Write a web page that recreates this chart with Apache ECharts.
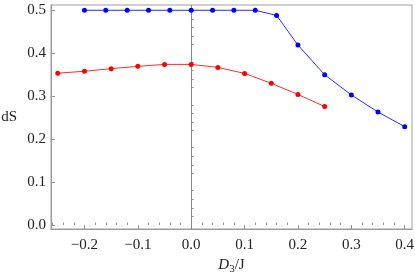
<!DOCTYPE html>
<html>
<head>
<meta charset="utf-8">
<script src="https://cdn.jsdelivr.net/npm/echarts@6/dist/echarts.min.js"></script>
<style>html,body{margin:0;padding:0;background:#fff}#c{width:415px;height:280px}</style>
</head>
<body>
<div id="c"></div>
<script>
var blueX = [-0.2,-0.16,-0.12,-0.08,-0.04,0,0.04,0.08,0.12,0.16,0.2,0.25,0.3,0.35,0.4];
var blueY = [0.5,0.5,0.5,0.5,0.5,0.5,0.5,0.5,0.5,0.488,0.419,0.350,0.303,0.263,0.229];
var redX = [-0.25,-0.2,-0.15,-0.1,-0.05,0,0.05,0.1,0.15,0.2,0.25];
var redY = [0.3535,0.358,0.364,0.3695,0.374,0.374,0.367,0.353,0.330,0.304,0.276];
var xMajor = [-0.2,-0.1,0,0.1,0.2,0.3,0.4];
var xMinor = [-0.26,-0.24,-0.22,-0.18,-0.16,-0.14,-0.12,-0.08,-0.06,-0.04,-0.02,0.02,0.04,0.06,0.08,0.12,0.14,0.16,0.18,0.22,0.24,0.26,0.28,0.32,0.34,0.36,0.38];
var yMajor = [0,0.1,0.2,0.3,0.4,0.5];
var yMinor = [0.02,0.04,0.06,0.08,0.12,0.14,0.16,0.18,0.22,0.24,0.26,0.28,0.32,0.34,0.36,0.38,0.42,0.44,0.46,0.48];

var xMin=-0.2627, xMax=0.4137, yMin=-0.0093, yMax=0.5123;
var font = '"Liberation Serif","DejaVu Serif",serif';
var tickColor = '#999';
var txt = '#222';

function pairs(xs, ys){ return xs.map(function(x,i){return [x, ys[i]];}); }
function fmt(v){ var s=v.toFixed(1); return s.charAt(0)==='-' ? '\u2212'+s.slice(1) : s; }

var chart = echarts.init(document.getElementById('c'), null, {renderer:'canvas'});
chart.setOption({
  animation:false,
  grid:{left:51,right:3,top:5,bottom:51,show:true,borderColor:'#c0c0c0',borderWidth:1.5,containLabel:false,outerBoundsMode:'none'},
  xAxis:[{
    type:'value',min:xMin,max:xMax,position:'bottom',
    name:'{i|D}{s|3}/J',nameLocation:'middle',nameGap:27,
    nameTextStyle:{fontFamily:font,fontSize:15,color:txt,rich:{i:{fontStyle:'italic',fontFamily:font,fontSize:15,color:txt},s:{fontFamily:font,fontSize:11,color:txt,verticalAlign:'bottom',padding:[7,0,0,0]}}},
    axisLine:{show:true,onZero:false,lineStyle:{color:tickColor,width:1}},
    axisTick:{show:true,inside:true,length:4,customValues:xMajor,lineStyle:{color:tickColor}},
    axisLabel:{show:true,customValues:xMajor,formatter:fmt,fontFamily:font,fontSize:15,color:txt,margin:9},
    splitLine:{show:false}
  },{
    type:'value',min:xMin,max:xMax,position:'bottom',gridIndex:0,
    axisLine:{show:false},
    axisTick:{show:true,inside:true,length:2.5,customValues:xMinor,lineStyle:{color:tickColor}},
    axisLabel:{show:false},splitLine:{show:false}
  }],
  yAxis:[{
    type:'value',min:yMin,max:yMax,position:'left',
    name:'dS',nameLocation:'middle',nameGap:34,nameRotate:0,
    nameTextStyle:{fontFamily:font,fontSize:15,color:txt},
    axisLine:{show:true,onZero:false,lineStyle:{color:tickColor,width:1}},
    axisTick:{show:true,inside:true,length:4,customValues:yMajor,lineStyle:{color:tickColor}},
    axisLabel:{show:true,customValues:yMajor,formatter:fmt,fontFamily:font,fontSize:15,color:txt,margin:5},
    splitLine:{show:false}
  },{
    type:'value',min:yMin,max:yMax,position:'left',
    axisLine:{show:false},
    axisTick:{show:true,inside:true,length:2.5,customValues:yMinor,lineStyle:{color:tickColor}},
    axisLabel:{show:false},splitLine:{show:false}
  }],
  series:[{
    type:'line',data:pairs(blueX,blueY),color:'#0000ff',
    symbol:'circle',symbolSize:5,
    lineStyle:{color:'#2b2bff',width:1},itemStyle:{color:'#0000ff'},z:3,
    markLine:{silent:true,symbol:'none',label:{show:false},lineStyle:{color:'#888',width:1,type:'solid'},data:[{xAxis:0}],z:1}
  },{
    type:'line',data:pairs(redX,redY),color:'#ff0000',
    symbol:'circle',symbolSize:5,
    lineStyle:{color:'#ff2b2b',width:1},itemStyle:{color:'#ff0000'},z:3
  }]
});
</script>
</body>
</html>
